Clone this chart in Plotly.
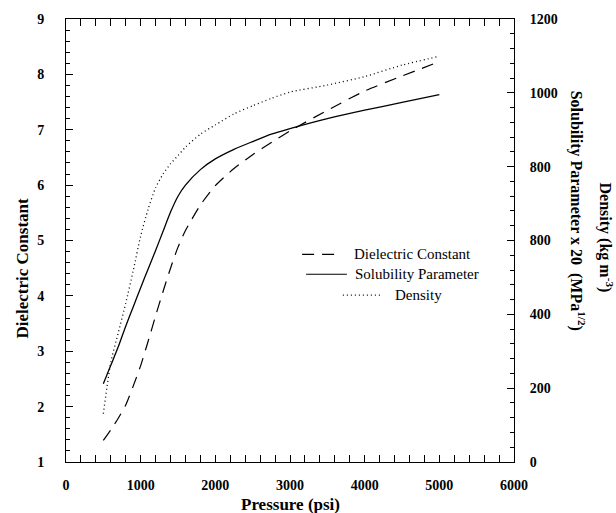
import plotly.graph_objects as go

# Values (pressure in psi)
pressure = [500, 600, 700, 800, 900, 1000, 1100, 1200, 1300, 1400, 1500, 1600,
            1800, 2000, 2250, 2500, 2750, 3000, 3500, 4000, 4500, 5000]

# Dielectric constant (left axis)
dielectric = [1.39, 1.58, 1.79, 2.03, 2.37, 2.74, 3.18, 3.64, 4.08, 4.50, 4.88, 5.18,
              5.64, 5.99, 6.30, 6.55, 6.77, 6.98, 7.35, 7.70, 7.97, 8.23]

# Solubility parameter x 20 (right axis units)
solubility = [212, 262, 312, 368, 420, 472, 523, 573, 625, 677, 720, 750,
              792, 821, 847, 868, 888, 903, 930, 953, 974, 995]

# Density, kg/m3 (right axis)
density = [131, 270, 350, 430, 518, 612, 685, 743, 780, 808, 830, 853,
           888, 913, 943, 965, 985, 1002, 1021, 1044, 1075, 1099]

x_ticks = [0, 1000, 2000, 3000, 4000, 5000, 6000]
left_ticks = [1, 2, 3, 4, 5, 6, 7, 8, 9]
right_ticks = [0, 200, 400, 600, 800, 1000, 1200]
right_labels = ["0", "200", "400", "800", "800", "1000", "1200"]  # as printed

SERIF = "Liberation Serif, Times New Roman, serif"

fig = go.Figure()

fig.add_trace(go.Scatter(x=pressure, y=dielectric, mode="lines",
                         line=dict(color="black", width=1.2, dash="12px,8px", shape="spline", smoothing=0.6),
                         name="Dielectric Constant"))
fig.add_trace(go.Scatter(x=pressure, y=solubility, mode="lines", yaxis="y2",
                         line=dict(color="black", width=1.3, shape="spline", smoothing=0.6),
                         name="Solubility Parameter"))
fig.add_trace(go.Scatter(x=pressure, y=density, mode="lines", yaxis="y2",
                         line=dict(color="black", width=1.3, dash="1px,3px", shape="spline", smoothing=0.6),
                         name="Density"))

tick_font = dict(family=SERIF, size=14, color="black", weight="bold")

fig.update_layout(
    width=616, height=513,
    margin=dict(l=66, r=102, t=16, b=51),
    plot_bgcolor="white", paper_bgcolor="white",
    showlegend=False,
    xaxis=dict(range=[0, 6000], tickvals=x_ticks, ticks="inside", ticklen=7, tickwidth=1,
               tickcolor="black", showline=True, linecolor="black", linewidth=1, mirror="allticks",
               showgrid=False, zeroline=False, tickfont=tick_font, ticklabelstandoff=10,
               minor=dict(ticks="inside", ticklen=3, dtick=200, tickcolor="black")),
    yaxis=dict(range=[1, 9], tickvals=left_ticks, ticks="inside", ticklen=7, tickwidth=1,
               tickcolor="black", showline=True, linecolor="black", linewidth=1,
               showgrid=False, zeroline=False, tickfont=tick_font, ticklabelstandoff=18,
               minor=dict(ticks="inside", ticklen=4, dtick=0.2, tickcolor="black")),
    yaxis2=dict(range=[0, 1200], tickvals=right_ticks, ticktext=right_labels, overlaying="y",
                side="right", ticks="inside", ticklen=7, tickwidth=1, tickcolor="black",
                showline=True, linecolor="black", linewidth=1, showgrid=False, zeroline=False,
                tickfont=tick_font, ticklabelstandoff=12,
                minor=dict(ticks="inside", ticklen=4, dtick=40, tickcolor="black")),
)

title_font = dict(family=SERIF, size=17, color="black", weight="bold")
side_font = dict(family=SERIF, size=16, color="black", weight="bold")

fig.add_annotation(text="Pressure (psi)", xref="paper", yref="paper", x=0.5, y=-0.095,
                   showarrow=False, font=title_font, xanchor="center", yanchor="middle")
fig.add_annotation(text="Dielectric Constant", xref="paper", yref="paper", x=-0.098, y=0.437,
                   showarrow=False, font=title_font, textangle=-90, xanchor="center", yanchor="middle")
fig.add_annotation(text="Solubility Parameter x 20  (MPa<sup>1/2</sup>)", xref="paper", yref="paper",
                   x=1.141, y=0.567, showarrow=False, font=side_font,
                   textangle=90, xanchor="center", yanchor="middle")
fig.add_annotation(text="Density (kg m<sup>-3</sup>)", xref="paper", yref="paper",
                   x=1.205, y=0.507, showarrow=False, font=side_font,
                   textangle=90, xanchor="center", yanchor="middle")

# hand-placed legend, like the original
legend_rows = [
    ("Dielectric Constant", "12px,8px", 0.527, 0.600, 0.638, 0.4686),
    ("Solubility Parameter", "solid", 0.536, 0.627, 0.641, 0.4238),
    ("Density", "1px,3px", 0.618, 0.701, 0.730, 0.3767),
]
for label, dash, x0, x1, xt, yr in legend_rows:
    fig.add_shape(type="line", xref="paper", yref="paper", x0=x0, x1=x1, y0=yr, y1=yr,
                  line=dict(color="black", width=1.2, dash=dash))
    fig.add_annotation(text=label, xref="paper", yref="paper", x=xt, y=yr, showarrow=False,
                       xanchor="left", yanchor="middle",
                       font=dict(family=SERIF, size=15, color="black"))

# drop the page's default body margin so the figure fills the window exactly
fig.write_html("out.html", config={"displayModeBar": False},
               post_script="document.body.style.margin='0';document.body.style.overflow='hidden';")
